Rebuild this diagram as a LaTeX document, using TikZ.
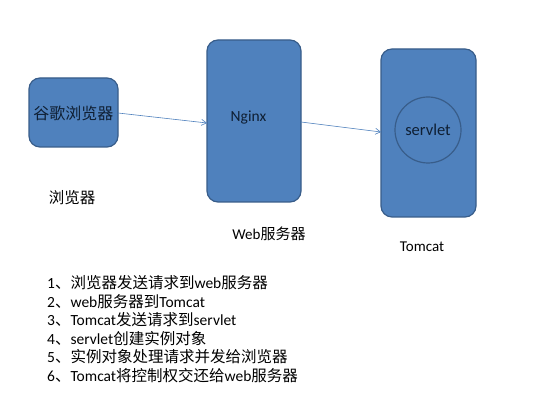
\documentclass[tikz,border=0pt]{standalone}
\usepackage{fontspec}
\setmainfont{Carlito}
\newfontfamily\cjk{Noto Sans CJK SC}
\usetikzlibrary{arrows.meta}
\definecolor{boxfill}{HTML}{4F81BD}
\definecolor{boxline}{HTML}{385D8A}
\definecolor{txtdark}{HTML}{0F1F33}
\tikzset{
  bluebox/.style={draw=boxline, line width=1.2pt, fill=boxfill, rounded corners=11pt},
  conn/.style={draw=boxfill, line width=0.6pt, -{Straight Barb[length=5pt,width=6pt]}},
  lbl/.style={font=\fontsize{15}{17}\selectfont, text=black, inner sep=0pt},
  listline/.style={font=\fontsize{15.5}{17}\selectfont, anchor=west, inner sep=0pt}
}
\begin{document}
\begin{tikzpicture}[x=1pt,y=-1pt]
\useasboundingbox (0,0) rectangle (539,419);
\fill[white] (0,0) rectangle (539,419);
% boxes
\draw[bluebox] (29,78) rectangle (118,147);
\node[inner sep=0pt, text=txtdark, font=\cjk\fontsize{16}{18}\selectfont] (browser) at (73.5,113) {谷歌浏览器};
\coordinate (bR) at (118,113);
\draw[bluebox] (207,40) rectangle (301,202);
\node[inner sep=0pt, text=txtdark, font=\fontsize{15.5}{17}\selectfont] (nginx) at (248.5,118) {Nginx};
\coordinate (nL) at (207,123);
\coordinate (nR) at (301,122);
\draw[bluebox] (381,49) rectangle (476,217);
\draw[draw=boxline, line width=1.2pt] (428,130) circle (33);
\node[inner sep=0pt, text=txtdark, font=\fontsize{16.5}{18}\selectfont] (servlet) at (428,130) {servlet};
\coordinate (tL) at (381,132);
% connectors
\draw[conn] (bR) -- (nL);
\draw[conn] (nR) -- (tL);
% labels
\node[lbl, font=\cjk\fontsize{15.5}{17}\selectfont] (l1) at (72,198) {浏览器};
\node[lbl] (l2) at (269,234) {Web{\cjk 服务器}};
\node[lbl] (l3) at (422,247) {Tomcat};
% list
\node[listline] (s1) at (47,283) {1{\cjk 、浏览器发送请求到}web{\cjk 服务器}};
\node[listline] (s2) at (47,301.5) {2{\cjk 、}web{\cjk 服务器到}Tomcat};
\node[listline] (s3) at (47,320) {3{\cjk 、}Tomcat{\cjk 发送请求到}servlet};
\node[listline] (s4) at (47,338.5) {4{\cjk 、}servlet{\cjk 创建实例对象}};
\node[listline] (s5) at (47,357) {5{\cjk 、实例对象处理请求并发给浏览器}};
\node[listline] (s6) at (47,376) {6{\cjk 、}Tomcat{\cjk 将控制权交还给}web{\cjk 服务器}};
\end{tikzpicture}
\end{document}
